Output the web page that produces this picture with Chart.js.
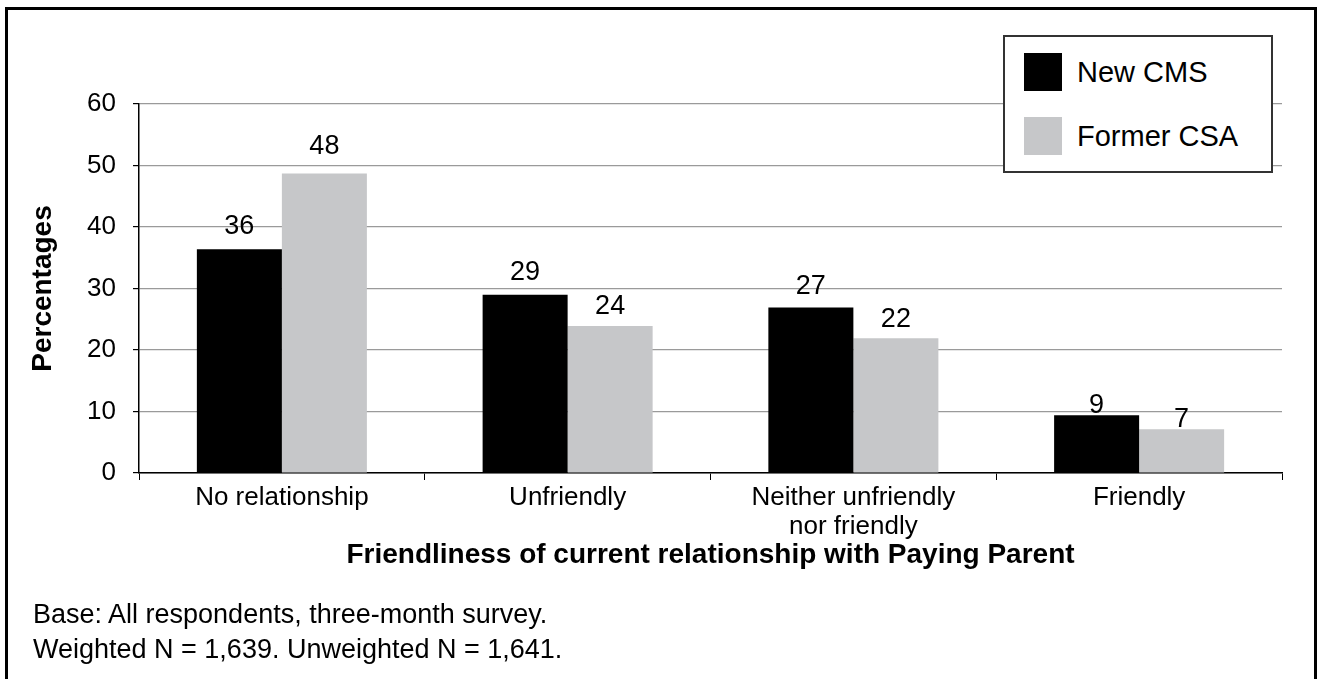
<!DOCTYPE html>
<html>
<head>
<meta charset="utf-8">
<script src="https://cdn.jsdelivr.net/npm/chart.js"></script>
<style>
  html, body { margin: 0; padding: 0; background: #fff; }
  body { width: 1320px; height: 679px; overflow: hidden; position: relative; font-family: "Liberation Sans", Arial, sans-serif; }
  #chart { position: absolute; left: 0; top: 0; }
  .frame { position: absolute; left: 5px; top: 7px; width: 1312px; height: 700px; border: 3px solid #000; box-sizing: border-box; pointer-events: none; }
  .legend { position: absolute; left: 1003px; top: 35px; width: 270px; height: 138px; border: 2px solid #333; box-sizing: border-box; background: #fff; }
  .legend-item { position: absolute; left: 19px; height: 38px; display: flex; align-items: center; font-size: 29px; color: #000; white-space: nowrap; }
  .legend-item span { display: inline-block; width: 38px; height: 38px; margin-right: 15px; }
  .note { position: absolute; left: 33px; top: 597px; font-size: 27px; line-height: 35px; color: #000; }
</style>
</head>
<body>
<canvas id="chart" width="1320" height="679"></canvas>
<div class="legend" id="legend"></div>
<div class="note">Base: All respondents, three-month survey.<br>Weighted N = 1,639. Unweighted N = 1,641.</div>
<div class="frame"></div>
<script>
// Data
const categories = ['No relationship', 'Unfriendly', ['Neither unfriendly', 'nor friendly'], 'Friendly'];
const newCms = [36.4, 29.0, 26.9, 9.4];
const formerCsa = [48.7, 23.9, 21.9, 7.1];
// printed value labels (as shown on the chart)
const newCmsLabels = [36, 29, 27, 9];
const formerCsaLabels = [48, 24, 22, 7];
const yTicks = [0, 10, 20, 30, 40, 50, 60];

const FONT = '"Liberation Sans", Arial, sans-serif';

// value labels above the bars
const valueLabels = {
    id: 'valueLabels',
    afterDatasetsDraw(chart) {
        const ctx = chart.ctx;
        const yScale = chart.scales.y;
        ctx.save();
        ctx.font = '27px ' + FONT;
        ctx.fillStyle = '#000';
        ctx.textAlign = 'center';
        ctx.textBaseline = 'alphabetic';
        chart.data.datasets.forEach((ds, i) => {
            const meta = chart.getDatasetMeta(i);
            meta.data.forEach((bar, j) => {
                const v = ds.printed[j];
                // labels sit a little higher the taller the bar (like the original)
                const y = yScale.getPixelForValue(v * 1.08);
                ctx.fillText(String(v), bar.x, y);
            });
        });
        ctx.restore();
    }
};

const chart = new Chart(document.getElementById('chart'), {
    type: 'bar',
    data: {
        labels: categories,
        datasets: [
            { label: 'New CMS', data: newCms, printed: newCmsLabels, backgroundColor: '#000000' },
            { label: 'Former CSA', data: formerCsa, printed: formerCsaLabels, backgroundColor: '#c6c7c9' }
        ]
    },
    options: {
        responsive: false,
        animation: false,
        devicePixelRatio: 1,
        layout: { padding: { left: 0, top: 104, right: 38, bottom: 0 } },
        categoryPercentage: 0.595,
        barPercentage: 1,
        plugins: {
            legend: { display: false },
            tooltip: { enabled: false }
        },
        scales: {
            x: {
                grid: { drawOnChartArea: false, color: '#000', tickLength: 7, offset: true },
                border: { color: '#000', width: 1.5 },
                ticks: { color: '#000', font: { family: FONT, size: 26, lineHeight: 1.1 }, padding: 4, maxRotation: 0, autoSkip: false },
                title: {
                    display: true,
                    text: 'Friendliness of current relationship with Paying Parent',
                    color: '#000',
                    font: { family: FONT, size: 28, weight: 'bold', lineHeight: 1.2 },
                    padding: { top: 0, bottom: 107 }
                },
                afterFit(scale) { scale.height = 206; }
            },
            y: {
                min: 0,
                max: 60,
                afterBuildTicks(scale) { scale.ticks = yTicks.map(v => ({ value: v })); },
                grid: { color: '#9a9a9a', lineWidth: 1.2, tickColor: '#000', tickLength: 6 },
                border: { color: '#000', width: 1.5 },
                ticks: { color: '#000', font: { family: FONT, size: 26 }, padding: 17 },
                title: {
                    display: true,
                    text: 'Percentages',
                    color: '#000',
                    font: { family: FONT, size: 28, weight: 'bold', lineHeight: 1.2 },
                    padding: { top: 26, bottom: 0 }
                },
                afterFit(scale) { scale.width = 139; }
            }
        }
    },
    plugins: [valueLabels]
});

// legend box inside the plot, top right
const legend = document.getElementById('legend');
chart.data.datasets.forEach((ds, i) => {
    const item = document.createElement('div');
    item.className = 'legend-item';
    item.style.top = (16 + i * 64) + 'px';
    item.innerHTML = '<span style="background:' + ds.backgroundColor + '"></span>' + ds.label;
    legend.appendChild(item);
});
</script>
</body>
</html>
